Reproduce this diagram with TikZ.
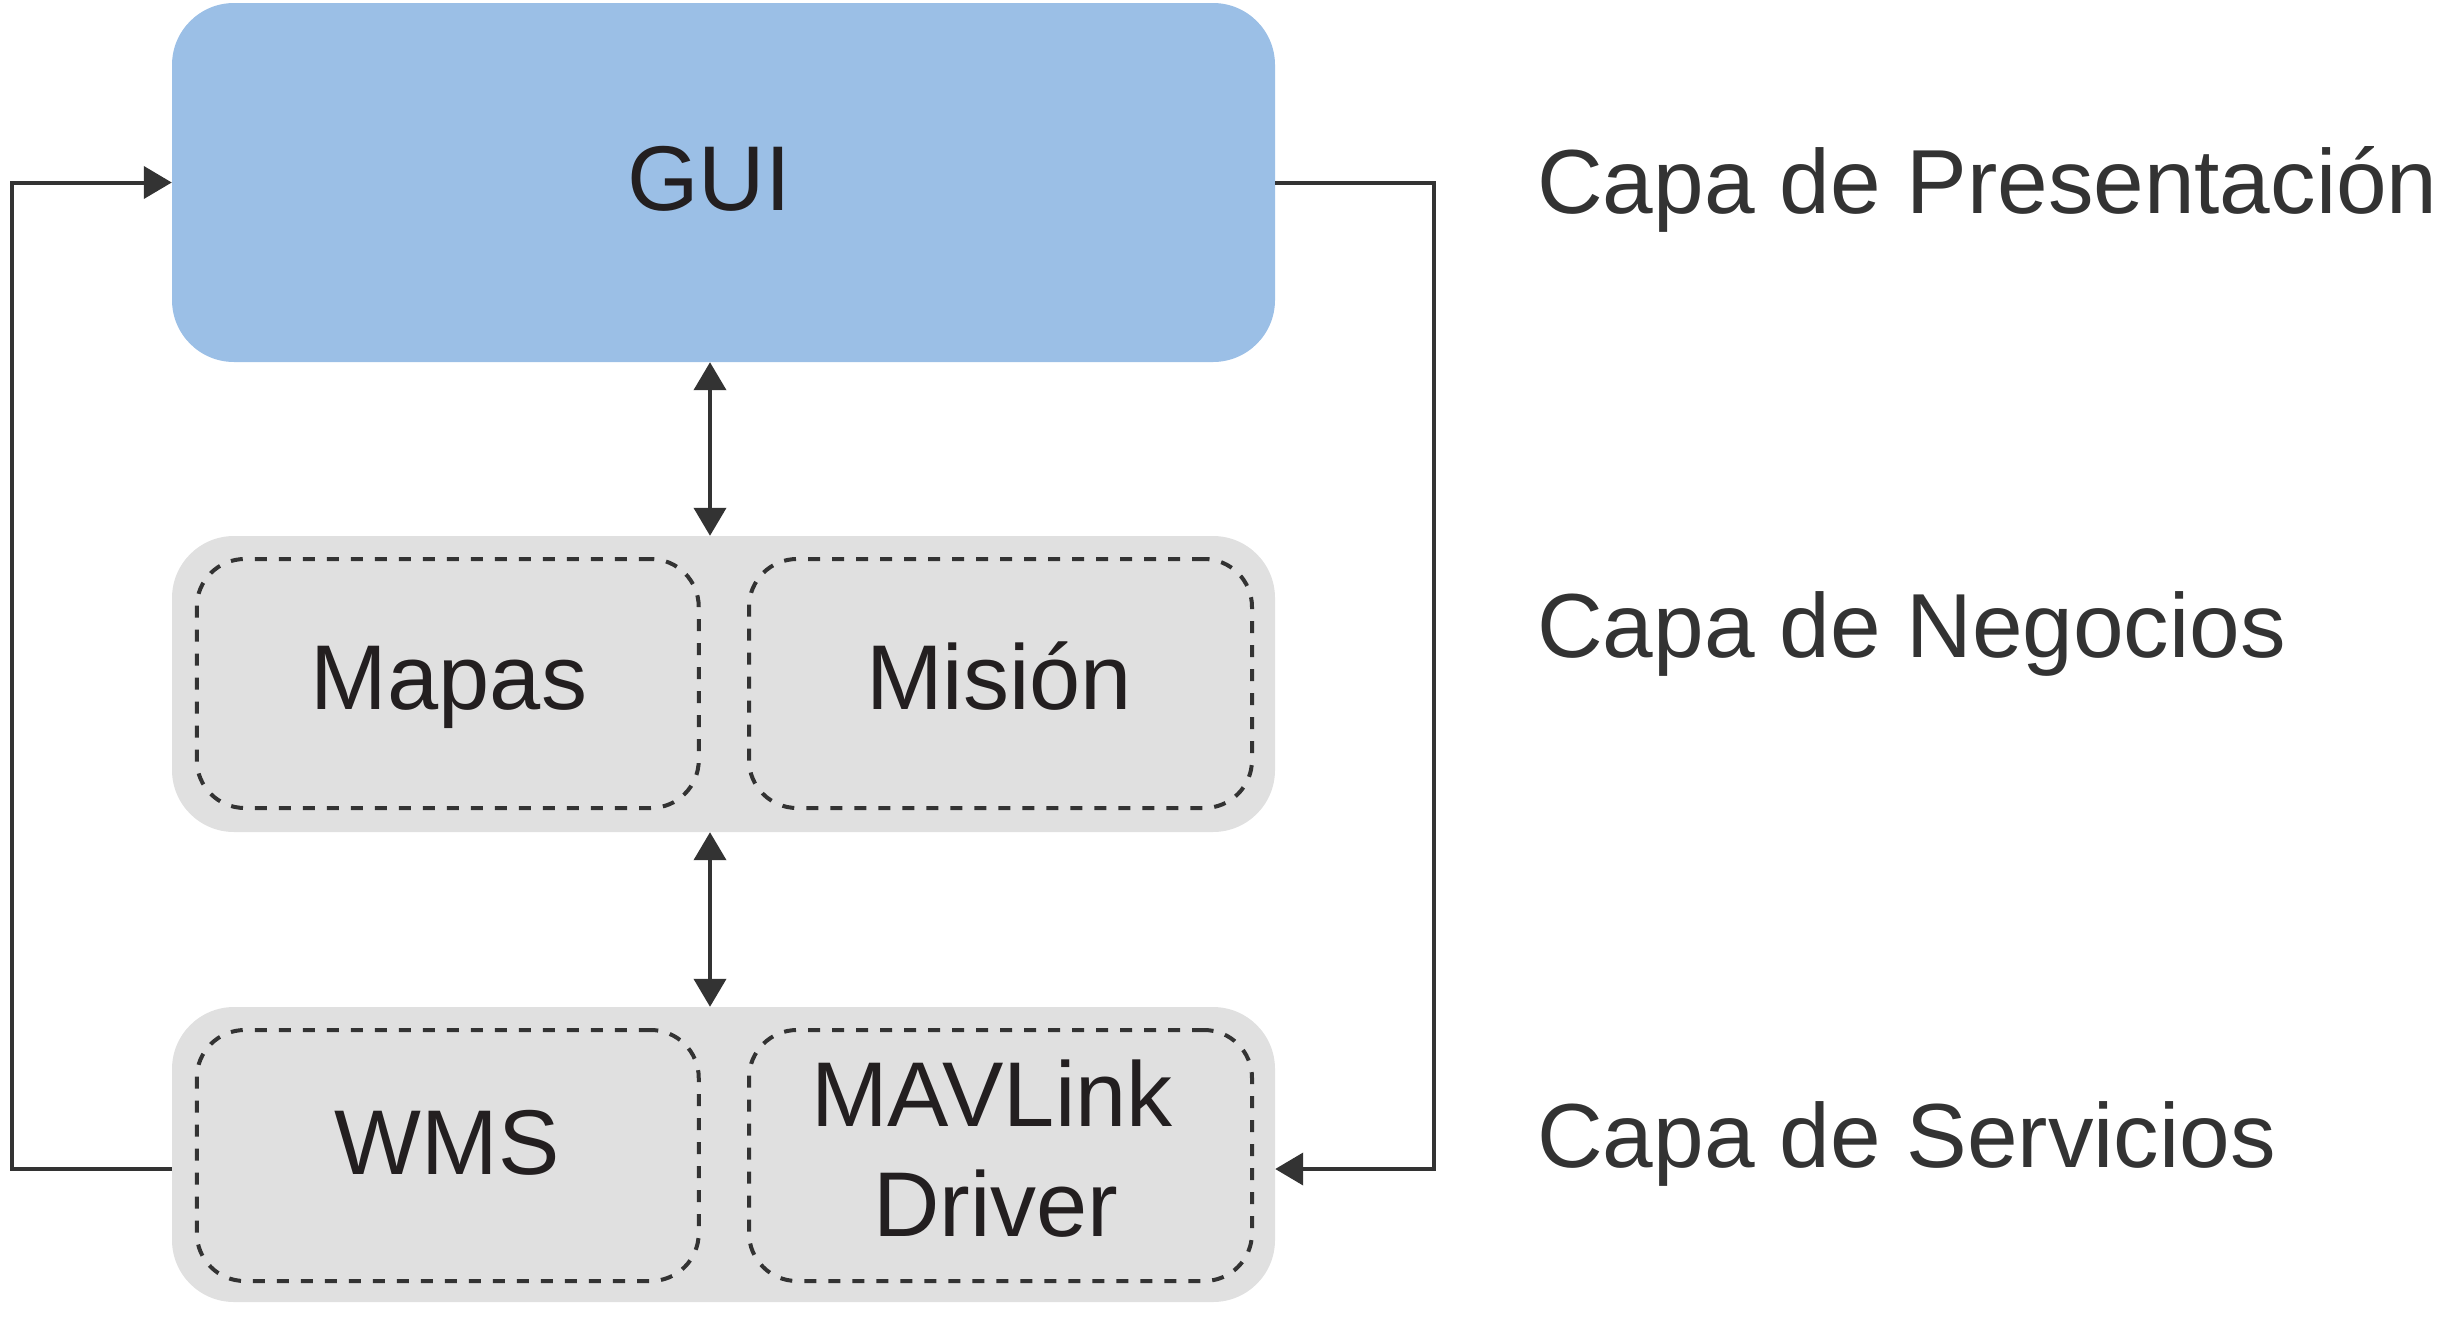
\documentclass[tikz,border=0pt]{standalone}
\usepackage{fontspec}
\setmainfont{Liberation Sans}
\usetikzlibrary{arrows.meta}
\definecolor{guiblue}{HTML}{9BBFE6}
\definecolor{laygray}{HTML}{E0E0E0}
\definecolor{linegray}{HTML}{333333}
\definecolor{txtdark}{HTML}{231F20}
\begin{document}
\begin{tikzpicture}[x=1pt,y=-1pt,
  layerbox/.style={rounded corners=62pt, draw=none, inner sep=0pt},
  modbox/.style={rounded corners=48pt, draw=linegray, line width=4pt, dash pattern=on 12pt off 12pt, inner sep=0pt},
  boxtext/.style={font=\fontsize{92}{110}\selectfont, text=txtdark, inner sep=0pt, anchor=base},
  laytext/.style={font=\fontsize{91}{110}\selectfont, text=linegray, inner sep=0pt, anchor=base west},
  conn/.style={draw=linegray, line width=4pt},
  tip/.tip={Triangle[length=28pt, width=32pt]}
]
\useasboundingbox (0,0) rectangle (2439,1320);

% layer containers
\path[fill=guiblue, rounded corners=62pt] (172,3) rectangle (1275,362);
\node[layerbox, minimum width=1103pt, minimum height=359pt] (gui) at (723.5,182.5) {};
\path[fill=laygray, rounded corners=62pt] (172,536) rectangle (1275,832);
\node[layerbox, minimum width=1103pt, minimum height=296pt] (biz) at (723.5,684) {};
\path[fill=laygray, rounded corners=62pt] (172,1007) rectangle (1275,1302);
\node[layerbox, minimum width=1103pt, minimum height=295pt] (svc) at (723.5,1154.5) {};

% modules
\node[modbox, minimum width=502pt, minimum height=249pt] (mapasbox) at (447.75,683.5) {};
\node[modbox, minimum width=503pt, minimum height=249pt] (misionbox) at (1000.5,683.5) {};
\node[modbox, minimum width=502pt, minimum height=251pt] (wmsbox) at (447.75,1155.5) {};
\node[modbox, minimum width=503pt, minimum height=251pt] (mavbox) at (1000.5,1155.5) {};

% texts
\node[boxtext] (guitext) at (709,210.7) {GUI};
\node[boxtext] (mapas) at (449,709) {Mapas};
\node[boxtext] (mision) at (999,709) {Misión};
\node[boxtext] (wms) at (447,1174) {WMS};
\node[boxtext] (mav1) at (992,1126) {MAVLink};
\node[boxtext] (mav2) at (996,1236) {Driver};

\node[laytext] (lpres) at (1537,213.7) {Capa de Presentación};
\node[laytext] (lneg) at (1537,657.6) {Capa de Negocios};
\node[laytext] (lserv) at (1537,1167.5) {Capa de Servicios};

% connectors
\coordinate (vx) at (710,0);
\draw[conn, tip-tip] (gui.south -| vx) -- (biz.north -| vx);
\draw[conn, tip-tip] (biz.south -| vx) -- (svc.north -| vx);

\coordinate (lb) at (12,1169);
\coordinate (rb) at (1434,1169);
\draw[conn, -tip] (svc.west |- lb) -- (lb) |- (gui.west);
\draw[conn, -tip] (gui.east) -| (rb) -- (svc.east |- rb);
\end{tikzpicture}
\end{document}
